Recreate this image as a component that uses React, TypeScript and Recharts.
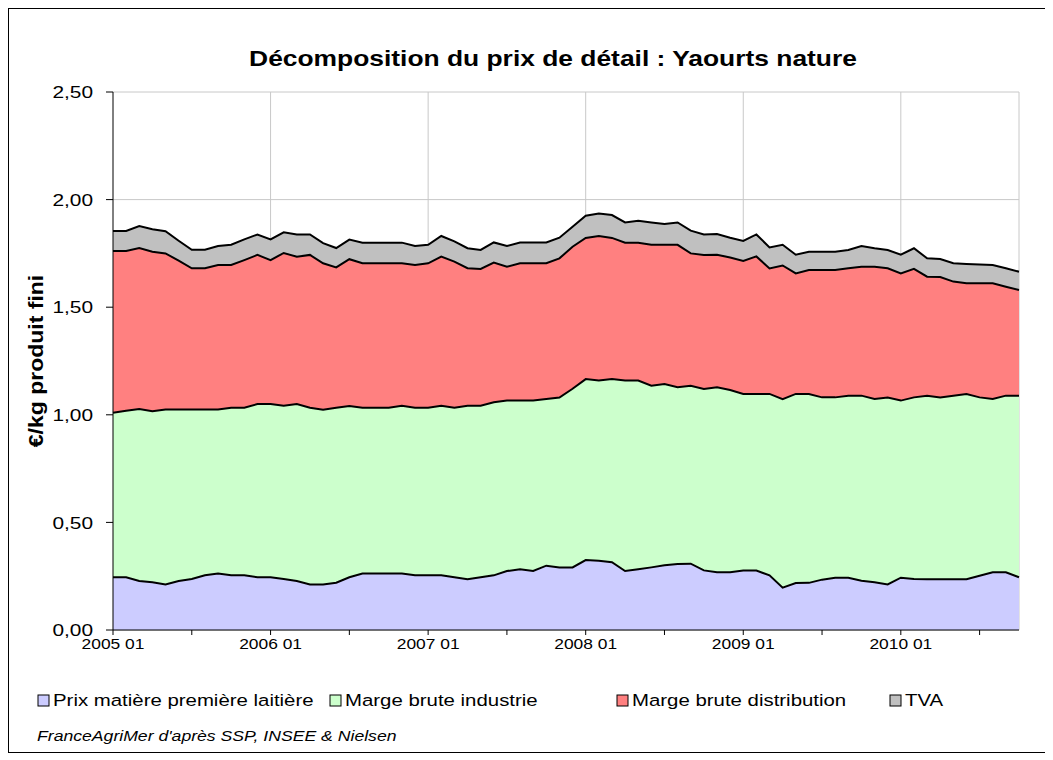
import React from "react";
import { AreaChart, Area, XAxis, YAxis, CartesianGrid } from "recharts";

const MONTHS = [
  "2005 01","2005 02","2005 03","2005 04","2005 05","2005 06","2005 07","2005 08","2005 09","2005 10","2005 11","2005 12",
  "2006 01","2006 02","2006 03","2006 04","2006 05","2006 06","2006 07","2006 08","2006 09","2006 10","2006 11","2006 12",
  "2007 01","2007 02","2007 03","2007 04","2007 05","2007 06","2007 07","2007 08","2007 09","2007 10","2007 11","2007 12",
  "2008 01","2008 02","2008 03","2008 04","2008 05","2008 06","2008 07","2008 08","2008 09","2008 10","2008 11","2008 12",
  "2009 01","2009 02","2009 03","2009 04","2009 05","2009 06","2009 07","2009 08","2009 09","2009 10","2009 11","2009 12",
  "2010 01","2010 02","2010 03","2010 04","2010 05","2010 06","2010 07","2010 08","2010 09","2010 10",
];

const MILK = [
  0.245,0.245,0.228,0.222,0.212,0.228,0.237,0.254,0.262,0.254,
  0.254,0.245,0.245,0.237,0.228,0.212,0.212,0.220,0.245,0.262,
  0.262,0.262,0.262,0.254,0.254,0.254,0.245,0.236,0.245,0.254,
  0.274,0.282,0.274,0.299,0.291,0.291,0.325,0.322,0.315,0.274,
  0.282,0.291,0.301,0.307,0.308,0.277,0.268,0.268,0.276,0.276,
  0.254,0.197,0.218,0.219,0.234,0.243,0.243,0.229,0.222,0.212,
  0.243,0.237,0.236,0.236,0.236,0.236,0.252,0.268,0.268,0.245,
];

const INDUSTRY = [
  0.765,0.774,0.799,0.794,0.813,0.797,0.788,0.771,0.763,0.779,
  0.779,0.805,0.805,0.805,0.822,0.821,0.812,0.813,0.796,0.771,
  0.771,0.771,0.780,0.779,0.779,0.788,0.788,0.806,0.797,0.804,
  0.792,0.784,0.792,0.774,0.789,0.830,0.841,0.837,0.851,0.885,
  0.877,0.844,0.842,0.821,0.827,0.843,0.860,0.847,0.821,0.821,
  0.843,0.876,0.879,0.878,0.847,0.838,0.846,0.860,0.851,0.868,
  0.823,0.844,0.853,0.845,0.853,0.861,0.829,0.805,0.821,0.844,
];

const DISTRIBUTION = [
  0.751,0.742,0.748,0.742,0.725,0.691,0.656,0.656,0.671,0.663,
  0.686,0.693,0.669,0.710,0.685,0.710,0.680,0.652,0.682,0.671,
  0.671,0.671,0.662,0.663,0.671,0.693,0.679,0.639,0.636,0.649,
  0.622,0.638,0.638,0.631,0.647,0.660,0.656,0.672,0.656,0.641,
  0.641,0.655,0.647,0.662,0.615,0.623,0.616,0.616,0.618,0.639,
  0.583,0.621,0.560,0.576,0.592,0.592,0.592,0.599,0.615,0.601,
  0.591,0.597,0.553,0.559,0.530,0.514,0.530,0.538,0.506,0.491,
];

const TVA = [
  0.093,0.093,0.102,0.104,0.103,0.093,0.086,0.086,0.088,0.094,
  0.096,0.095,0.096,0.096,0.103,0.095,0.094,0.090,0.091,0.096,
  0.096,0.096,0.096,0.088,0.086,0.096,0.094,0.093,0.088,0.094,
  0.096,0.097,0.097,0.097,0.096,0.093,0.103,0.104,0.106,0.094,
  0.102,0.104,0.097,0.104,0.106,0.095,0.096,0.092,0.093,0.102,
  0.098,0.096,0.087,0.085,0.085,0.085,0.085,0.096,0.086,0.085,
  0.087,0.096,0.085,0.084,0.085,0.090,0.087,0.085,0.086,0.085,
];

const Y_TICKS = [0, 0.5, 1, 1.5, 2, 2.5];
const GRID_MONTHS = ["2006 01", "2007 01", "2008 01", "2009 01", "2010 01", "2010 10"];

const SERIES = [
  { key: "milk", name: "Prix matière première laitière", color: "#CCCCFF" },
  { key: "industry", name: "Marge brute industrie", color: "#CCFFCC" },
  { key: "distribution", name: "Marge brute distribution", color: "#FF8080" },
  { key: "tva", name: "TVA", color: "#C0C0C0" },
];

const TITLE = "Décomposition du prix de détail : Yaourts nature";
const Y_LABEL = "€/kg produit fini";
const SOURCE = "FranceAgriMer d'après SSP, INSEE & Nielsen";

const data = MONTHS.map((m, i) => ({
  month: m,
  milk: MILK[i],
  industry: INDUSTRY[i],
  distribution: DISTRIBUTION[i],
  tva: TVA[i],
}));

const FONT = "'Liberation Sans', Arial, sans-serif";
const SX = 1.2;

const fmtY = (v: number) => v.toFixed(2).replace(".", ",");

const YTick = (props: any) => {
  const { x, y, payload } = props;
  return (
    <g transform={`translate(${x},${y}) scale(${SX},1)`}>
      <text textAnchor="end" dy="0.36em" fontSize={17.4} fontFamily={FONT} fill="#000">
        {fmtY(payload.value)}
      </text>
    </g>
  );
};

const XTick = (props: any) => {
  const { x, y, payload } = props;
  const label = String(payload.value);
  if (!label.endsWith(" 01")) return null;
  return (
    <g transform={`translate(${x},${y}) scale(${SX},1)`}>
      <text textAnchor="middle" dy="0.71em" fontSize={14.5} fontFamily={FONT} fill="#000">
        {label}
      </text>
    </g>
  );
};

const vGen = (props: any) => {
  const scale = props?.xAxis?.scale;
  if (!scale) return [];
  const out: number[] = [];
  GRID_MONTHS.forEach((m) => {
    let v: any = typeof scale === "function" ? scale(m) : scale.map ? scale.map(m) : undefined;
    if (typeof v === "number" && !isNaN(v)) out.push(v);
  });
  return out;
};

const LEGEND_X = [29, 321, 608, 881];

export default function App() {
  const W = 1036;
  const H = 743;
  return (
    <div
      style={{
        position: "relative",
        width: 1038,
        height: 745,
        border: "1px solid #000",
        boxSizing: "border-box",
        background: "#fff",
      }}
    >
      <div style={{ position: "absolute", left: 0, top: 0 }}>
        <AreaChart
          width={W}
          height={H}
          data={data}
          margin={{ top: 83, right: 26, left: 44, bottom: 92 }}
        >
          <CartesianGrid
            stroke="#C8C8C8"
            strokeWidth={1}
            verticalCoordinatesGenerator={vGen}
          />
          <XAxis
            dataKey="month"
            interval={5}
            height={30}
            tickSize={5}
            tickMargin={4}
            tick={<XTick />}
            axisLine={{ stroke: "#000", strokeWidth: 1 }}
            tickLine={{ stroke: "#000", strokeWidth: 1 }}
          />
          <YAxis
            width={60}
            domain={[0, 2.5]}
            ticks={Y_TICKS}
            tickSize={7}
            tickMargin={13}
            tick={<YTick />}
            axisLine={{ stroke: "#000", strokeWidth: 1 }}
            tickLine={{ stroke: "#000", strokeWidth: 1 }}
          />
          {SERIES.map((s) => (
            <Area
              key={s.key}
              type="linear"
              dataKey={s.key}
              name={s.name}
              stackId="fill"
              stroke="none"
              fill={s.color}
              fillOpacity={1}
              isAnimationActive={false}
              dot={false}
              activeDot={false}
            />
          ))}
          {SERIES.map((s) => (
            <Area
              key={s.key + "-line"}
              type="linear"
              dataKey={s.key}
              name={s.name + " "}
              stackId="line"
              stroke="#000"
              strokeWidth={2}
              fill="none"
              isAnimationActive={false}
              dot={false}
              activeDot={false}
              legendType="none"
            />
          ))}
        </AreaChart>
      </div>
      <svg
        width={W}
        height={H}
        style={{ position: "absolute", left: 0, top: 0, pointerEvents: "none" }}
      >
        <g transform={`translate(544,57) scale(${SX},1)`}>
          <text textAnchor="middle" fontSize={22} fontWeight="bold" fontFamily={FONT} fill="#000">
            {TITLE}
          </text>
        </g>
        <g transform="translate(34,352) rotate(-90) scale(1.15,1)">
          <text textAnchor="middle" fontSize={20} fontWeight="bold" fontFamily={FONT} fill="#000">
            {Y_LABEL}
          </text>
        </g>
        {SERIES.map((s, i) => (
          <g key={s.key}>
            <rect
              x={LEGEND_X[i]}
              y={686}
              width={11}
              height={11}
              fill={s.color}
              stroke="#000"
              strokeWidth={1}
            />
            <g transform={`translate(${LEGEND_X[i] + 15},697) scale(${SX},1)`}>
              <text fontSize={17} fontFamily={FONT} fill="#000">
                {s.name}
              </text>
            </g>
          </g>
        ))}
        <g transform={`translate(28,732) scale(${SX},1)`}>
          <text fontSize={14.7} fontStyle="italic" fontFamily={FONT} fill="#000">
            {SOURCE}
          </text>
        </g>
      </svg>
    </div>
  );
}
